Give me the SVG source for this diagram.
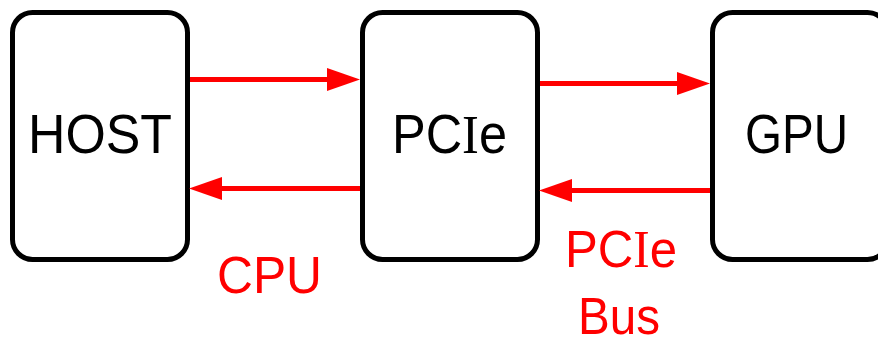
<svg xmlns="http://www.w3.org/2000/svg" width="878" height="341" viewBox="0 0 878 341">
  <style>
    .box { fill: #ffffff; stroke: #000000; stroke-width: 5; }
    .label { font-family: "Liberation Sans", Arial, sans-serif; font-size: 55px; fill: #000000; }
    .note { font-family: "Liberation Sans", Arial, sans-serif; font-size: 52px; fill: #ff0000; }
    .serif-i { font-family: "Liberation Serif", "Times New Roman", serif; }
    .link { stroke: #ff0000; stroke-width: 5; fill: none; marker-end: url(#head); }
  </style>
  <defs>
    <marker id="head" markerUnits="userSpaceOnUse" markerWidth="34" markerHeight="24" refX="3" refY="11.5" orient="auto">
      <path d="M0,0 L33,11.5 L0,23 Z" fill="#ff0000"/>
    </marker>
  </defs>

  <rect x="0" y="0" width="878" height="341" fill="#ffffff"/>

  <g id="host">
    <rect class="box" x="12.5" y="12.5" width="175" height="247" rx="20" ry="20"/>
    <text class="label" x="28" y="153" textLength="144" lengthAdjust="spacingAndGlyphs">HOST</text>
  </g>

  <g id="pcie">
    <rect class="box" x="362.5" y="12.5" width="175" height="247" rx="20" ry="20"/>
    <text class="label" x="392" y="153" textLength="115" lengthAdjust="spacingAndGlyphs">PC<tspan class="serif-i">I</tspan>e</text>
  </g>

  <g id="gpu">
    <rect class="box" x="712.5" y="12.5" width="175" height="247" rx="20" ry="20"/>
    <text class="label" x="745" y="153" textLength="103" lengthAdjust="spacingAndGlyphs">GPU</text>
  </g>

  <g id="connectors">
    <line class="link" x1="190" y1="79.5" x2="330" y2="79.5"/>
    <line class="link" x1="360" y1="188.5" x2="219" y2="188.5"/>
    <line class="link" x1="540" y1="83.5" x2="680" y2="83.5"/>
    <line class="link" x1="710" y1="190.5" x2="569" y2="190.5"/>
  </g>

  <g id="notes">
    <text class="note" x="217" y="293" textLength="105" lengthAdjust="spacingAndGlyphs">CPU</text>
    <text class="note" x="565" y="267" textLength="112" lengthAdjust="spacingAndGlyphs">PC<tspan class="serif-i">I</tspan>e</text>
    <text class="note" x="578" y="334" textLength="82" lengthAdjust="spacingAndGlyphs">Bus</text>
  </g>
</svg>
